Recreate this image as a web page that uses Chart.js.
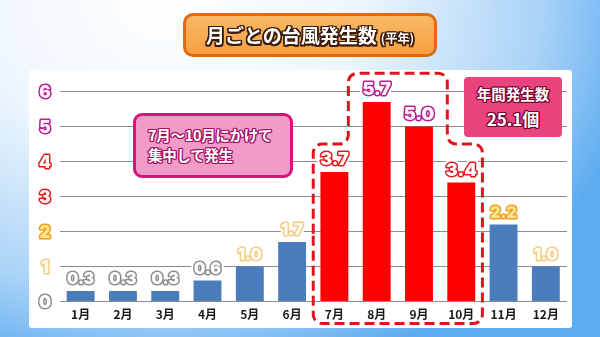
<!DOCTYPE html>
<html lang="ja">
<head>
<meta charset="utf-8">
<title>月ごとの台風発生数</title>
<script src="https://cdn.jsdelivr.net/npm/chart.js@4.4.1/dist/chart.umd.min.js"></script>
<style>
html,body{margin:0;padding:0;}
body{width:600px;height:337px;overflow:hidden;position:relative;
  background:radial-gradient(ellipse 80% 115% at 28% 0%, #ffffff 0%, #eef6fd 40%, #a9d3f7 78%, #5eacf0 100%);
  font-family:"Noto Sans CJK JP",sans-serif;}
#panel{position:absolute;left:29px;top:70px;width:543px;height:258px;background:#fff;border-radius:3px;z-index:0;}
#graph{position:absolute;left:0;top:0;z-index:1;}
.boite{position:absolute;z-index:2;box-sizing:border-box;font-weight:bold;color:#fff;}
#titre{left:183px;top:13px;width:254px;height:44px;border:3px solid #e06a12;border-radius:10px;
  background:linear-gradient(#fbb866,#f5a040);text-align:center;line-height:38px;font-size:19px;
  text-shadow:-1.5px -1.5px 0 #3a1a08,1.5px -1.5px 0 #3a1a08,-1.5px 1.5px 0 #3a1a08,1.5px 1.5px 0 #3a1a08,
              0 -1.5px 0 #3a1a08,0 1.5px 0 #3a1a08,-1.5px 0 0 #3a1a08,1.5px 0 0 #3a1a08;}
#titre small{font-size:12px;margin-left:4px;}
#note{left:133px;top:113px;width:160px;height:65px;border:3px solid #d6157a;border-radius:9px;background:#f39bc8;
  font-size:14.5px;line-height:20px;padding:9px 0 0 12px;letter-spacing:-0.3px;
  text-shadow:-1px -1px 0 #a0105e,1px -1px 0 #a0105e,-1px 1px 0 #a0105e,1px 1px 0 #a0105e,
              0 -1.2px 0 #a0105e,0 1.2px 0 #a0105e,-1.2px 0 0 #a0105e,1.2px 0 0 #a0105e;}
#total{left:464px;top:77px;width:98px;height:60px;border-radius:4px;background:#e8447e;text-align:center;
  text-shadow:-1px -1px 0 #7a0030,1px -1px 0 #7a0030,-1px 1px 0 #7a0030,1px 1px 0 #7a0030,
              0 -1.2px 0 #7a0030,0 1.2px 0 #7a0030,-1.2px 0 0 #7a0030,1.2px 0 0 #7a0030;}
#total .l1{font-size:14.5px;margin-top:7px;line-height:20px;}
#total .l2{font-size:17px;margin-top:4px;line-height:22px;}
</style>
</head>
<body>
<div id="panel"></div>
<canvas id="graph" width="600" height="337"></canvas>
<div class="boite" id="titre">月ごとの台風発生数<small>(平年)</small></div>
<div class="boite" id="note">7月～10月にかけて<br>集中して発生</div>
<div class="boite" id="total"><div class="l1">年間発生数</div><div class="l2">25.1個</div></div>
<script>
// D O N N E E S - - - - - - - - - - - - - - - - - - - - - - - - - - - -
let mois= ["1月","2月","3月","4月","5月","6月","7月","8月","9月","10月","11月","12月"];
let moyennes= [0.3,0.3,0.3,0.6,1.0,1.7,3.7,5.7,5.0,3.4,2.2,1.0];   //nombre moyen de typhons par mois
let graduations= [0,1,2,3,4,5,6];                                  //axe Y
let saison= [6,7,8,9];                                             //index des mois 7月〜10月

// S T Y L E S  par niveau (partie entière de la valeur) - - - - - - -
let contours= ["#8e8e8e","#f3cd85","#f0a020","#e31a1a","#e31a1a","#b5218f","#b5218f"];
let remplissages= ["#ffffff","#fffaf0","#ffe58a","#ffffff","#ffffff","#fff2fa","#fff2fa"];
let bleu= "#4b7dbd";
let rouge= "#ff0000";
let policeChiffres= "Inter, 'DejaVu Sans', sans-serif";

// texte à contour : halo blanc, contour coloré, remplissage clair
function texteContour(ctx, texte, x, y, niveau, halo){
  ctx.lineJoin= "round";
  if(halo){
    ctx.lineWidth= 7;
    ctx.strokeStyle= "#ffffff";
    ctx.strokeText(texte, x, y);
  }
  ctx.lineWidth= 3;
  ctx.strokeStyle= contours[niveau];
  ctx.strokeText(texte, x, y);
  ctx.fillStyle= remplissages[niveau];
  ctx.fillText(texte, x, y);
}

// graduations de l'axe Y
let axeY= {
  id: "axeY",
  afterDraw(chart){
    let y= chart.scales.y, ctx= chart.ctx;
    ctx.save();
    ctx.textAlign= "center";
    ctx.textBaseline= "middle";
    ctx.font= "900 17px " + policeChiffres;
    graduations.forEach(function(g){
      texteContour(ctx, String(g), 45, y.getPixelForValue(g) + 1, g, false);
    });
    ctx.restore();
  }
};

// étiquettes de valeur au dessus des barres
let etiquettes= {
  id: "etiquettes",
  afterDatasetsDraw(chart){
    let ctx= chart.ctx;
    let meta= chart.getDatasetMeta(0);
    ctx.save();
    ctx.textAlign= "center";
    ctx.textBaseline= "alphabetic";
    meta.data.forEach(function(barre, i){
      let v= moyennes[i];
      ctx.font= "900 " + (v >= 3 ? 18 : 16) + "px " + policeChiffres;
      texteContour(ctx, v.toFixed(1), barre.x, barre.y - 7, Math.floor(v), true);
    });
    ctx.restore();
  }
};

// cadre pointillé autour de 7月〜10月
let cadre= {
  id: "cadre",
  afterDatasetsDraw(chart){
    let x= chart.scales.x, y= chart.scales.y, ctx= chart.ctx;
    let meta= chart.getDatasetMeta(0);
    let premier= saison[0], dernier= saison[saison.length-1];
    let pas= x.getPixelForValue(1) - x.getPixelForValue(0);
    let gauche= x.getPixelForValue(premier) - pas/2;
    let droite= x.getPixelForValue(dernier) + pas/2;
    let hautG= meta.data[premier].x + meta.data[premier].width/2;
    let hautD= meta.data[dernier].x - meta.data[dernier].width/2;
    let marche= y.getPixelForValue(4.5);
    let sommet= y.getPixelForValue(6.52);
    let bas= chart.chartArea.bottom + 22;
    let r= 9;
    ctx.save();
    ctx.beginPath();
    ctx.moveTo(gauche, (marche + bas)/2);
    ctx.arcTo(gauche, marche, hautG, marche, r);
    ctx.arcTo(hautG, marche, hautG, sommet, r);
    ctx.arcTo(hautG, sommet, hautD, sommet, r);
    ctx.arcTo(hautD, sommet, hautD, marche, r);
    ctx.arcTo(hautD, marche, droite, marche, r);
    ctx.arcTo(droite, marche, droite, bas, r);
    ctx.arcTo(droite, bas, gauche, bas, r);
    ctx.arcTo(gauche, bas, gauche, marche, r);
    ctx.closePath();
    ctx.setLineDash([10,5]);
    ctx.lineWidth= 3;
    ctx.strokeStyle= "#e0141e";
    ctx.stroke();
    ctx.restore();
  }
};

let couleurs= moyennes.map(function(v, i){
  return saison.includes(i) ? rouge : bleu;
});

new Chart(document.getElementById("graph"), {
  type: "bar",
  data: {
    labels: mois,
    datasets: [{
      data: moyennes,
      backgroundColor: couleurs,
      borderWidth: 0,
      categoryPercentage: 1,
      barPercentage: 0.66
    }]
  },
  options: {
    responsive: false,
    animation: false,
    devicePixelRatio: 1,
    layout: { padding: { top: 91.5, right: 33, bottom: 0, left: 0 } },
    plugins: { legend: { display: false }, tooltip: { enabled: false } },
    scales: {
      x: {
        grid: { display: false },
        border: { display: false },
        afterFit: function(scale){ scale.height= 35.5; },
        ticks: {
          padding: -2,
          color: "#1a1a1a",
          font: { family: "'Noto Sans CJK JP'", size: 12, weight: "bold" }
        }
      },
      y: {
        min: graduations[0],
        max: graduations[graduations.length-1],
        afterFit: function(scale){ scale.width= 59.5; },
        afterBuildTicks: function(scale){
          scale.ticks= graduations.map(function(g){ return { value: g }; });
        },
        border: { display: false },
        grid: { color: "#8c8c8c", lineWidth: 1, drawTicks: false },
        ticks: { display: false }
      }
    }
  },
  plugins: [cadre, etiquettes, axeY]
});
</script>
</body>
</html>
